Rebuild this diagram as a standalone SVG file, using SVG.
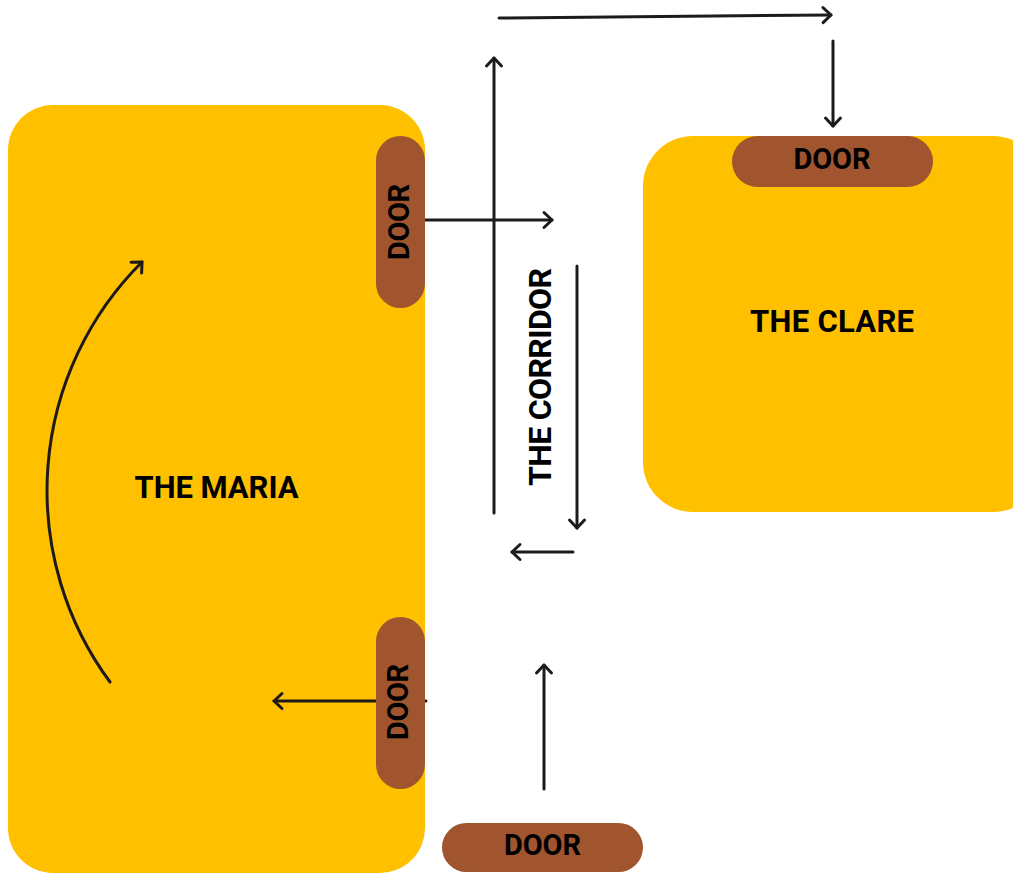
<svg xmlns="http://www.w3.org/2000/svg" width="1013" height="873" viewBox="0 0 1013 873">
<style>
.room{fill:#FFC000}
.door{fill:#A0552F}
.lbl{font-family:Roboto,"Liberation Sans",sans-serif;font-weight:700;fill:#000;text-anchor:middle}
.c{fill:none;stroke:#1e1a1b;stroke-width:3;stroke-linecap:round;marker-end:url(#ah)}
</style>
<defs>
<marker id="ah" markerUnits="userSpaceOnUse" viewBox="-11 -10 14 20" markerWidth="14" markerHeight="20" refX="0" refY="0" orient="auto" overflow="visible">
<path d="M-8,-7.5 L0,0 L-8,7.5" fill="none" stroke="#1e1a1b" stroke-width="3" stroke-linecap="round" stroke-linejoin="round"/>
</marker>
</defs>
<rect width="1013" height="873" fill="#fff"/>
<g id="maria">
<rect class="room" x="8" y="105" width="417" height="768" rx="45"/>
<text class="lbl" x="216.5" y="498" font-size="31" textLength="164" lengthAdjust="spacing">THE MARIA</text>
</g>
<g id="clare">
<rect class="room" x="643" y="136" width="400" height="376" rx="50"/>
<text class="lbl" x="832" y="332" font-size="31" textLength="164" lengthAdjust="spacing">THE CLARE</text>
</g>
<g id="corridor">
<text class="lbl" transform="translate(540,377) rotate(-90)" x="0" y="11" font-size="32" textLength="218" lengthAdjust="spacing">THE CORRIDOR</text>
</g>
<g id="connectors">
<path class="c" d="M494,513 L494,58"/>
<path class="c" d="M499,18 L831,15"/>
<path class="c" d="M833,41 L833,126"/>
<path class="c" d="M425,220 L552,220"/>
<path class="c" d="M577,266 L577,528"/>
<path class="c" d="M573,552 L512,552"/>
<path class="c" d="M544,789 L544,665"/>
<path class="c" d="M426,701 L274,701"/>
<path class="c" d="M110,682 A322.5,322.5 0 0 1 142,262"/>
</g>
<g id="door-maria-top">
<rect class="door" x="376" y="136" width="49" height="172" rx="24.5"/>
<text class="lbl" transform="translate(398,222) rotate(-90)" x="0" y="11" font-size="29" textLength="76" lengthAdjust="spacing">DOOR</text>
</g>
<g id="door-maria-bottom">
<rect class="door" x="376" y="617" width="49" height="172" rx="24.5"/>
<text class="lbl" transform="translate(397,702) rotate(-90)" x="0" y="11" font-size="29" textLength="76" lengthAdjust="spacing">DOOR</text>
</g>
<g id="door-clare">
<rect class="door" x="732" y="136" width="201" height="51" rx="25.5"/>
<text class="lbl" x="832" y="169" font-size="29" textLength="77" lengthAdjust="spacing">DOOR</text>
</g>
<g id="door-corridor">
<rect class="door" x="442" y="823" width="201" height="49" rx="24.5"/>
<text class="lbl" x="542.5" y="855" font-size="29" textLength="77" lengthAdjust="spacing">DOOR</text>
</g>
</svg>
